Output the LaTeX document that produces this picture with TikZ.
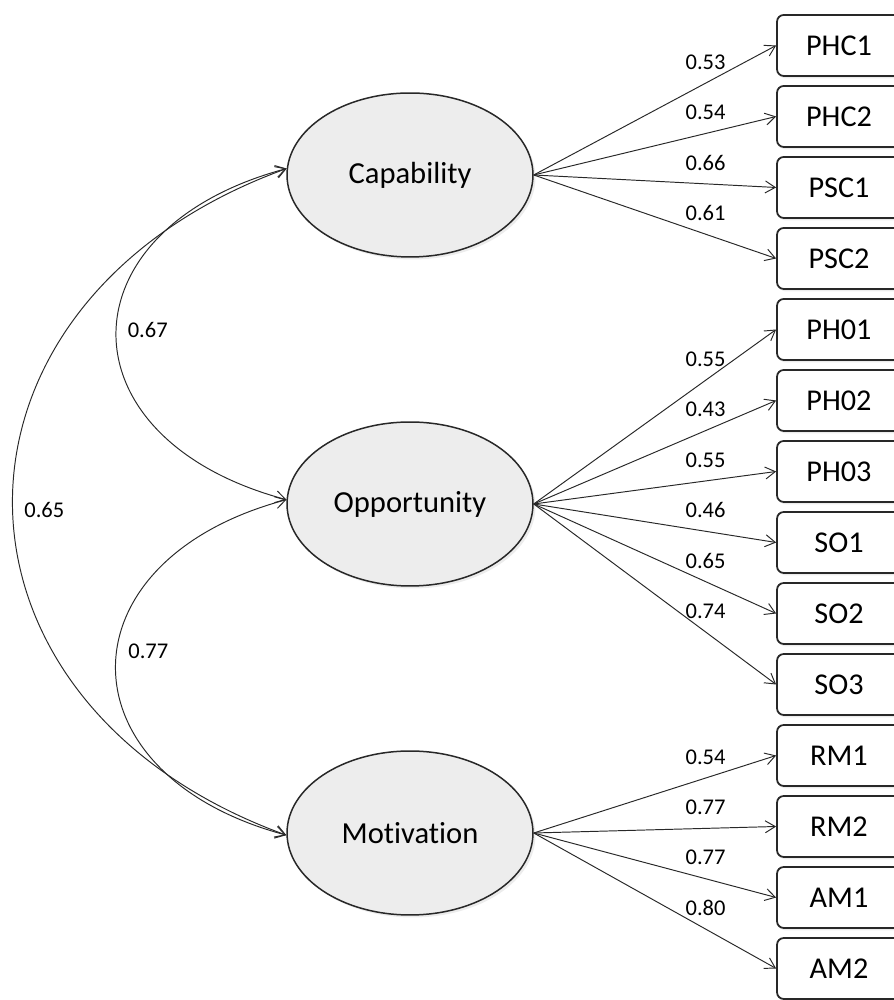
\documentclass[tikz,border=0pt]{standalone}
\usepackage{fontspec}
\setmainfont{Carlito}[Ligatures=NoCommon]
\usetikzlibrary{shapes.geometric}
\usetikzlibrary{arrows.meta}
\usetikzlibrary{shadows}

\definecolor{ellgray}{RGB}{237,237,237}
\definecolor{linegray}{RGB}{40,40,40}

\begin{document}
\begin{tikzpicture}[x=0.02cm,y=0.02cm,
  latent/.style={ellipse,draw=linegray,line width=0.85pt,fill=ellgray,minimum width=4.92cm,minimum height=3.28cm,inner sep=0pt,font=\fontsize{17.4}{20}\selectfont,drop shadow={shadow xshift=0.05cm,shadow yshift=-0.05cm,opacity=0.15}},
  indicator/.style={rectangle,draw=linegray,line width=1pt,fill=white,minimum width=2.48cm,minimum height=1.22cm,rounded corners=0.8ex,inner sep=0pt,font=\fontsize{17.2}{20}\selectfont,drop shadow={shadow xshift=0.04cm,shadow yshift=-0.05cm,opacity=0.15}},
  loading/.style={-{Straight Barb[length=0.2cm,width=0.24cm]},line width=0.55pt,draw=linegray},
  covar/.style={{Straight Barb[length=0.2cm,width=0.24cm]}-{Straight Barb[length=0.2cm,width=0.24cm]},line width=0.55pt,draw=linegray},
  coef/.style={pos=0.709,yshift=0.42cm,inner sep=0pt,font=\fontsize{12.8}{15}\selectfont},
  covcoef/.style={pos=0.5,anchor=west,xshift=0.22cm,inner sep=0pt,font=\fontsize{12.8}{15}\selectfont}
  ]

\useasboundingbox (0,0) rectangle (893,1000);

% latent factors
\node[latent] (cap) at (410,825) {Capability};
\node[latent] (opp) at (410,496) {Opportunity};
\node[latent] (mot) at (410,167) {Motivation};

% observed items
\node[indicator] (phc1) at (839,954.5) {PHC1};
\node[indicator] (phc2) at (839,883.5) {PHC2};
\node[indicator] (psc1) at (839,812.5) {PSC1};
\node[indicator] (psc2) at (839,741.5) {PSC2};

\node[indicator] (ph01) at (839,670.5) {PH01};
\node[indicator] (ph02) at (839,599.5) {PH02};
\node[indicator] (ph03) at (839,528.5) {PH03};
\node[indicator] (so1) at (839,457.5) {SO1};
\node[indicator] (so2) at (839,386.5) {SO2};
\node[indicator] (so3) at (839,315.5) {SO3};

\node[indicator] (rm1) at (839,244.5) {RM1};
\node[indicator] (rm2) at (839,173.5) {RM2};
\node[indicator] (am1) at (839,102.5) {AM1};
\node[indicator] (am2) at (839,31.5) {AM2};

% loadings
\draw[loading] (cap.east) -- node[coef] (lphc1) {0.53} (phc1.west);
\draw[loading] (cap.east) -- node[coef] (lphc2) {0.54} (phc2.west);
\draw[loading] (cap.east) -- node[coef] (lpsc1) {0.66} (psc1.west);
\draw[loading] (cap.east) -- node[coef] (lpsc2) {0.61} (psc2.west);

\draw[loading] (opp.east) -- node[coef] (lph01) {0.55} (ph01.west);
\draw[loading] (opp.east) -- node[coef] (lph02) {0.43} (ph02.west);
\draw[loading] (opp.east) -- node[coef] (lph03) {0.55} (ph03.west);
\draw[loading] (opp.east) -- node[coef] (lso1) {0.46} (so1.west);
\draw[loading] (opp.east) -- node[coef] (lso2) {0.65} (so2.west);
\draw[loading] (opp.east) -- node[coef] (lso3) {0.74} (so3.west);

\draw[loading] (mot.east) -- node[coef] (lrm1) {0.54} (rm1.west);
\draw[loading] (mot.east) -- node[coef] (lrm2) {0.77} (rm2.west);
\draw[loading] (mot.east) -- node[coef] (lam1) {0.77} (am1.west);
\draw[loading] (mot.east) -- node[coef] (lam2) {0.80} (am2.west);

% correlations
\draw[covar] (cap.177) to[out=195,in=165,looseness=1.82] node[covcoef,pos=0.49] (capopp) {0.67} (opp.178);
\draw[covar] (opp.178) to[out=195,in=165,looseness=1.8] node[covcoef,pos=0.46] (oppmot) {0.77} (mot.181);
\draw[covar] (cap.177) to[out=200,in=160,looseness=1.494] node[covcoef,pos=0.51] (capmot) {0.65} (mot.181);

\end{tikzpicture}
\end{document}
